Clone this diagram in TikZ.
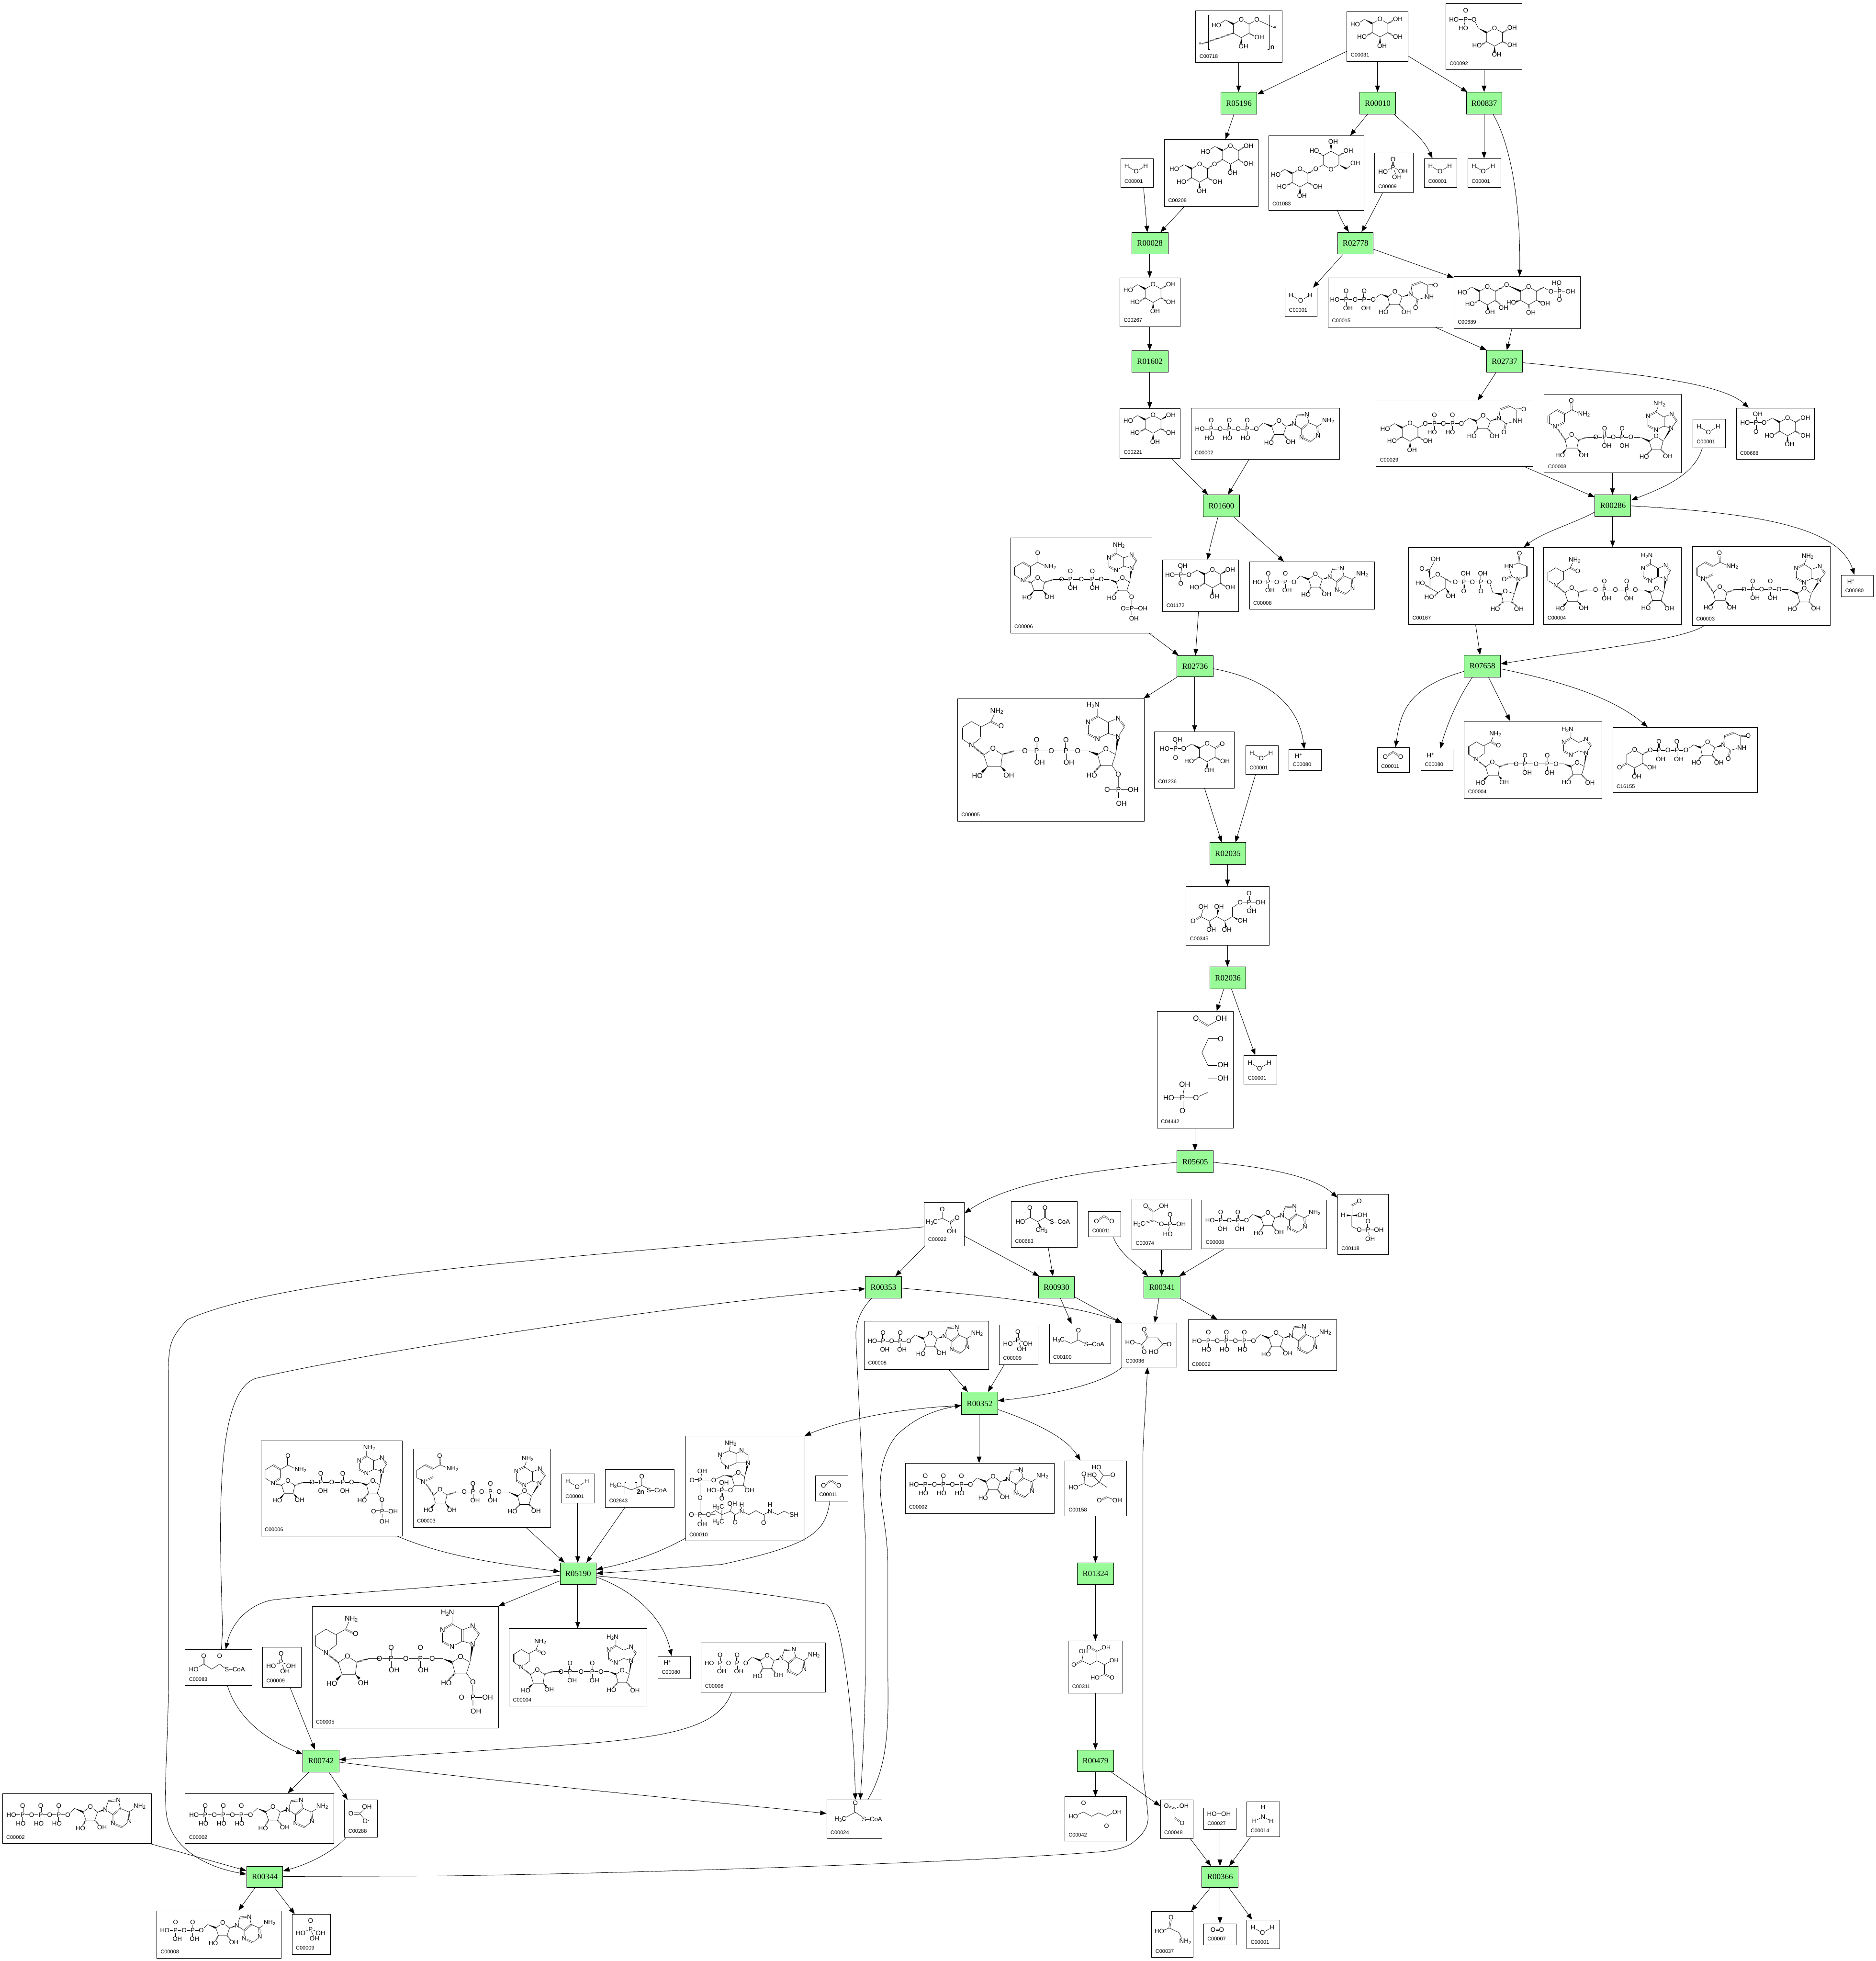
\documentclass[tikz,border=0pt]{standalone}
\usepackage{fontspec}
\setmainfont{Liberation Sans}
\newfontfamily\rf{Liberation Serif}
\usetikzlibrary{arrows.meta,calc}
\definecolor{rg}{HTML}{98FB98}
\newcounter{atm}
\newcounter{idn}
\tikzset{
 cbox/.style={draw,line width=.3pt,fill=white,inner sep=0pt,anchor=north west},
 rbox/.style={draw,line width=.3pt,fill=rg,inner sep=0pt,anchor=north west,font=\rf\fontsize{5.1}{5.1}\selectfont},
 idl/.style={inner sep=0pt,anchor=west,font=\fontsize{3.3}{3.3}\selectfont},
 atom/.style={fill=white,inner sep=.12pt,font=\fontsize{\fs}{\fs}\selectfont},
 bd/.style={line width=.22pt,line join=round},
 arr/.style={line width=.26pt,-{Triangle[length=4pt,width=3pt]}}
}
\newcommand\sub[1]{\raisebox{-.3ex}{\scalebox{.72}{#1}}}
\newcommand\supr[1]{\raisebox{.55ex}{\scalebox{.72}{#1}}}
\newcommand\cpd[6]{\def\cx{#2}\def\cy{#3}%
 \pgfmathsetmacro\wv{(#4-#2)*.276}\pgfmathsetmacro\hv{(#5-#3)*.276}%
 \node[cbox,minimum width=\wv mm,minimum height=\hv mm] (#1) at (#2,#3) {};%
 \pgfmathsetmacro\lx{#2+3}\pgfmathsetmacro\ly{#5-4.9}\stepcounter{idn}%
 \node[idl] (id\arabic{idn}) at (\lx,\ly) {#6};}
\newcommand\rxn[6]{\pgfmathsetmacro\wv{(#4-#2)*.276}\pgfmathsetmacro\hv{(#5-#3)*.276}%
 \node[rbox,minimum width=\wv mm,minimum height=\hv mm] (#1) at (#2,#3) {#6};}
\newcommand\mol[4]{\pgfmathsetmacro\mx{\cx+#1}\pgfmathsetmacro\my{\cy+#2}\pgfmathsetmacro\uu{#3*.2835}%
 \pgfmathsetmacro\fs{2.6+.25*\uu}\pgfmathsetmacro\ww{\uu*.11}\pgfmathsetmacro\lw{\uu*.13}%
 \begin{scope}[shift={(\mx,\my)},x=\uu pt,y=\uu pt]#4\end{scope}}
\newcommand\A[2]{\stepcounter{atm}\node[atom] (at\arabic{atm}) at (#1) {#2};}
\newcommand\Ba[2]{\draw[bd] (#1)--(#2);}
\newcommand\Wd[2]{\fill ($(#2)!\ww pt!90:(#1)$) -- (#1) -- ($(#2)!\ww pt!-90:(#1)$) -- cycle;}
\newcommand\Hs[2]{\draw[line width=\lw pt,dash pattern=on .22pt off .3pt] (#1)--(#2);}
\newcommand\Db[2]{\draw[line width=.2pt,double,double distance=.55pt] (#1)--(#2);}
\newcommand\Ring[2]{\begin{scope}[shift={(#1,#2)}]\draw[bd] (0,1)--(.87,.5)--(.87,-.5)--(0,-1)--(-.87,-.5)--(-.87,.5)--cycle;\A{0,1}{O}\end{scope}}
\newcommand\GlcSix{\Wd{-1.72,.97}{-.87,.5}\Ba{-1.72,.97}{-2.3,.6}\A{-2.75,.38}{HO}}
\newcommand\GlcLow{\Hs{.87,-.5}{1.55,-.9}\A{1.97,-.96}{OH}\Hs{-.87,-.5}{-1.55,-.9}\A{-2,-.96}{HO}\Wd{0,-1}{0,-1.65}\A{.22,-1.96}{OH}}
\newcommand\mGlc[1]{\Ring{0}{0}\GlcSix\GlcLow#1{.87,.5}{1.55,.9}\A{1.97,1}{OH}}
\newcommand\PSix{\Wd{-1.7,.95}{-.87,.5}\Ba{-1.7,.95}{-2.6,.45}\Ba{-2.6,.45}{-4.3,.45}\Db{-3.5,.45}{-3.5,-.5}\Ba{-3.5,.45}{-3.4,1.2}\A{-2.6,.45}{O}\A{-3.5,.45}{P}\A{-4.7,.45}{HO}\A{-3.5,-.55}{O}\A{-3.3,1.42}{OH}}
\newcommand\mGsix[1]{\Ring{0}{0}\PSix\GlcLow#1{.87,.5}{1.55,.9}\A{1.97,1}{OH}}
\newcommand\mWater{\Ba{-1.05,.62}{0,0}\Ba{1.05,.62}{0,0}\A{-1.05,.62}{H}\A{1.05,.62}{H}\A{0,0}{O}}
\newcommand\mPi{\Db{0,0}{0,.92}\Ba{0,0}{-1.1,-.45}\Ba{0,0}{1.1,-.43}\Ba{0,0}{.43,-1.03}\A{0,0}{P}\A{0,.92}{O}\A{-1.1,-.45}{HO}\A{1.1,-.43}{OH}\A{.43,-1.03}{OH}}
\newcommand\mCO{\Db{-.85,-.55}{0,0}\Db{.85,-.55}{0,0}\A{-.85,-.55}{O}\A{.85,-.55}{O}}
\newcommand\Pg[3]{\begin{scope}[shift={(#1,0)}]\Db{0,0}{0,.8}\Ba{0,0}{0,-.75}\A{0,0}{P}\A{0,.96}{O}\A{#3,-.98}{#2}\end{scope}}
\newcommand\mAdoH{\Ba{0,0}{.75,.7}\Wd{.75,.7}{1.7,.3}\draw[bd] (1.7,.3)--(2.5,.9)--(3.3,.3)--(3,-.6)--(2,-.6)--cycle;\Wd{3.3,.3}{4.17,.58}%
 \Hs{2,-.6}{1.65,-1.2}\Hs{3,-.6}{3.45,-1.15}%
 \draw[bd] (4.17,.58)--(4.5,1.52);\Db{4.5,1.52}{5.6,1.6}\draw[bd] (5.6,1.6)--(5.83,.7);\Db{5.83,.7}{5,0}\draw[bd] (5,0)--(4.17,.58) (5,0)--(5,-.94);\Db{5,-.94}{6,-1.4}\draw[bd] (6,-1.4)--(6.83,-.7);\Db{6.83,-.7}{6.75,.3}\draw[bd] (6.75,.3)--(5.83,.7) (6.75,.3)--(7.75,.92);%
 \A{0,0}{O}\A{2.5,.9}{O}\A{1.4,-1.5}{HO}\A{3.8,-1.4}{OH}\A{4.17,.58}{N}\A{5.6,1.6}{N}\A{5,-.94}{N}\A{6.83,-.7}{N}\A{7.95,.92}{NH\sub{2}}}
\newcommand\mATP{\Ba{-1,0}{5,0}\Pg{0}{HO}{-.2}\Pg{2}{HO}{-.2}\Pg{4}{HO}{-.2}\A{-1.25,0}{HO}\A{1,0}{O}\A{3,0}{O}\begin{scope}[shift={(5,0)}]\mAdoH\end{scope}}
\newcommand\mADP{\Ba{-1,0}{3,0}\Pg{0}{OH}{.2}\Pg{2}{OH}{.2}\A{-1.25,0}{HO}\A{1,0}{O}\begin{scope}[shift={(3,0)}]\mAdoH\end{scope}}
\newcommand\mUrid{\Ba{0,0}{.85,.6}\Wd{.85,.6}{1.62,.29}\draw[bd] (1.62,.29)--(2.4,.89)--(3.2,.29)--(2.9,-.56)--(1.8,-.56)--cycle;\Wd{3.2,.29}{4.15,.6}%
 \Hs{1.8,-.56}{1.35,-1.1}\Hs{2.9,-.56}{3.4,-1.1}%
 \draw[bd] (4.15,.6)--(4.27,1.56);\Db{4.27,1.56}{5.3,1.94}\draw[bd] (5.3,1.94)--(6.05,1.56)--(6.05,.29)--(4.9,0)--(4.15,.6);\Db{6.05,1.56}{6.9,1.6}\Db{4.9,0}{4.7,-.94}%
 \A{0,0}{O}\A{2.4,.89}{O}\A{1.15,-1.38}{HO}\A{3.65,-1.38}{OH}\A{4.15,.6}{N}\A{6.9,1.6}{O}\A{6.2,.29}{NH}\A{4.7,-.94}{O}}
\newcommand\mUDP{\Ba{-1,0}{3,0}\Pg{0}{OH}{.2}\Pg{2}{OH}{.2}\A{-1.25,0}{HO}\A{1,0}{O}\begin{scope}[shift={(3,0)}]\mUrid\end{scope}}
\newcommand\mUDPn{\Ba{-1,0}{3,0}\Pg{0}{HO}{-.25}\Pg{2}{HO}{-.25}\A{-1,0}{O}\A{1,0}{O}\begin{scope}[shift={(3,0)}]\mUrid\end{scope}}
\newcommand\mUDPG{\begin{scope}[shift={(-2.7,-.96)}]\Ba{.87,.5}{1.7,.96}\Ring{0}{0}\GlcSix\GlcLow\end{scope}\mUDPn}
\newcommand\mKeto{\begin{scope}[shift={(-2.69,-.96)}]\Hs{.87,.5}{1.69,.96}\Ring{0}{0}\Db{-.87,-.5}{-1.67,-.94}\Hs{.87,-.5}{1.5,-.85}\Wd{0,-1}{0,-1.65}\A{-1.67,-.94}{O}\A{1.93,-.94}{OH}\A{.23,-1.94}{OH}\end{scope}\Ba{-1,0}{3,0}\Pg{0}{OH}{.2}\Pg{2}{OH}{.2}\A{-.95,0}{O}\A{1,0}{O}\begin{scope}[shift={(3,0)}]\mUrid\end{scope}}
\newcommand\mUGA{\begin{scope}[shift={(-2.88,-.16)}]\Ring{0}{0}\Wd{-.87,.5}{-.95,1.45}\Db{-.95,1.45}{-1.65,1.6}\Ba{-.95,1.45}{-.35,2.5}\A{-1.75,1.65}{O}\A{-.25,2.72}{OH}\Hs{.87,.5}{1.45,.16}\Hs{-.87,-.5}{-1.6,-.05}\A{-1.95,.05}{HO}\Hs{0,-1}{-.35,-1.4}\A{-.95,-1.5}{HO}\Wd{.87,-.5}{1.2,-1}\A{1.43,-1.4}{OH}\end{scope}%
 \Ba{-1,0}{2.83,0}\Db{0,0}{0,-.8}\Db{1.9,0}{1.9,-.8}\Ba{0,0}{0,.7}\Ba{1.9,0}{1.9,.7}\A{-.95,0}{O}\A{0,0}{P}\A{.95,0}{O}\A{1.9,0}{P}\A{0,-1}{O}\A{1.9,-1}{O}\A{.2,.93}{OH}\A{2.1,.93}{OH}%
 \draw[bd] (2.83,0)--(3.2,-1.16);\Wd{3.2,-1.16}{4.17,-1.38}\draw[bd] (4.17,-1.38)--(4.6,-1)--(5.6,-1.27)--(5.3,-2.2)--(4.35,-2.2)--cycle;\Wd{5.6,-1.27}{6.06,.29}\Hs{4.35,-2.2}{3.85,-2.65}\Hs{5.3,-2.2}{5.85,-2.65}%
 \draw[bd] (6.06,.29)--(5.3,.63)--(5,1.74)--(6.06,2.1)--(7,1.74);\Db{7,1.74}{7,.63}\draw[bd] (7,.63)--(6.06,.29);\Db{5.3,.63}{4.47,.33}\Db{6.06,2.1}{6.17,3.15}%
 \A{2.83,0}{O}\A{4.6,-1}{O}\A{3.48,-3}{HO}\A{6.1,-3}{OH}\A{6.06,.29}{N}\A{4.47,.33}{O}\A{5,1.74}{HN}\A{6.17,3.15}{O}}
\newcommand\mAdoV{\Ba{0,0}{1.05,0}\Wd{1.05,0}{2.1,-.46}\draw[bd] (2.1,-.46)--(2.89,.11)--(3.68,-.46)--(3.42,-1.43)--(2.37,-1.43)--cycle;\Wd{3.68,-.46}{4.6,1.03}\Hs{2.37,-1.43}{1.85,-1.95}\Hs{3.42,-1.43}{3.95,-1.95}%
 \draw[bd] (4.6,1.03)--(5.25,1.84);\Db{5.25,1.84}{4.65,2.64}\draw[bd] (4.65,2.64)--(3.73,2.3);\Db{3.73,2.3}{3.73,1.26}\draw[bd] (3.73,1.26)--(4.6,1.03) (3.73,1.26)--(2.87,.8);\Db{2.87,.8}{1.95,1.3}\draw[bd] (1.95,1.3)--(1.95,2.4);\Db{1.95,2.4}{2.87,2.87}\draw[bd] (2.87,2.87)--(3.73,2.3) (2.87,2.87)--(3.15,3.6);%
 \A{0,0}{O}\A{2.89,.11}{O}\A{1.52,-2.23}{HO}\A{4.21,-2.18}{OH}\A{4.6,1.03}{N}\A{4.65,2.64}{N}\A{2.87,.8}{N}\A{1.95,2.4}{N}\A{3.25,3.8}{NH\sub{2}}}
\newcommand\mAdoVb[2]{\Ba{0,0}{.9,0}\Wd{.9,0}{1.7,-.3}\draw[bd] (1.7,-.3)--(2.41,.17)--(3.22,-.3)--(2.92,-1.23)--(1.94,-1.23)--cycle;\Wd{3.22,-.3}{3.45,1.25}\Hs{1.94,-1.23}{1.4,-1.8}%
 \draw[bd] (3.45,1.25)--(4,2.08);\Db{4,2.08}{3.45,2.8}\draw[bd] (3.45,2.8)--(2.57,2.45);\Db{2.57,2.45}{2.57,1.5}\draw[bd] (2.57,1.5)--(3.45,1.25) (2.57,1.5)--(1.68,1.03);\Db{1.68,1.03}{.88,1.45}\draw[bd] (.88,1.45)--(.88,2.47);\Db{.88,2.47}{1.7,2.95}\draw[bd] (1.7,2.95)--(2.57,2.45) (1.7,2.95)--(1.7,3.6);%
 \A{0,0}{O}\A{2.41,.17}{O}\A{1.2,-2.08}{HO}\A{3.45,1.25}{N}\A{3.45,2.8}{N}\A{1.68,1.03}{N}\A{.88,2.47}{N}\A{#2,3.9}{#1}}
\newcommand\Pextra{\Ba{2.92,-1.23}{3.46,-2}\Ba{3.46,-2}{3.47,-4}\Db{3.47,-3.3}{2.51,-3.3}\Ba{3.47,-3.3}{4.4,-3.3}\A{3.46,-2}{O}\A{3.47,-3.3}{P}\A{2.51,-3.3}{O}\A{4.72,-3.3}{OH}\A{3.72,-4.46}{OH}}
\newcommand\rNAD{\mAdoV}
\newcommand\rNADH{\mAdoVb{H\sub{2}N}{1.3}\Hs{2.92,-1.23}{3.5,-1.85}\A{3.87,-2.14}{OH}}
\newcommand\rNADP{\mAdoVb{NH\sub{2}}{2}\Pextra}
\newcommand\rNADPH{\mAdoVb{H\sub{2}N}{1.3}\Pextra}
\newcommand\nicOx{\Ba{-1,0}{-1.97,0}\Hs{-1.97,0}{-2.97,-.34}\draw[bd] (-2.97,-.34)--(-3.76,.28)--(-4.5,-.34)--(-4.29,-1.26)--(-3.16,-1.26)--cycle;\Wd{-4.29,-1.26}{-4.75,-1.8}\Wd{-3.16,-1.26}{-2.75,-1.75}\Hs{-4.5,-.34}{-5.53,1.2}%
 \draw[bd] (-5.53,1.2)--(-6.4,1.6);\Db{-6.4,1.6}{-6.4,2.48}\draw[bd] (-6.4,2.48)--(-5.47,3.1);\Db{-5.47,3.1}{-4.55,2.64}\draw[bd] (-4.55,2.64)--(-4.55,1.72);\Db{-4.55,1.72}{-5.53,1.2}\draw[bd] (-4.55,2.64)--(-3.76,3.1);\Db{-3.76,3.1}{-3.8,4}\draw[bd] (-3.76,3.1)--(-2.9,2.75);%
 \A{-3.76,.28}{O}\A{-5.08,-2.07}{HO}\A{-2.4,-2.07}{OH}\A{-5.53,1.2}{N\supr{+}}\A{-3.8,4.14}{O}\A{-2.35,2.64}{NH\sub{2}}}
\newcommand\nicOxB{\Ba{-1,0}{-1.97,0}\Hs{-1.97,0}{-2.95,-.34}\draw[bd] (-2.95,-.34)--(-3.72,.18)--(-4.45,-.34)--(-4.14,-1.26)--(-3.14,-1.26)--cycle;\Wd{-4.14,-1.26}{-4.55,-1.8}\Wd{-3.14,-1.26}{-2.75,-1.7}\Hs{-4.45,-.34}{-5.42,-.11}%
 \draw[bd] (-5.42,-.11)--(-6.28,.46);\Db{-6.28,.46}{-6.28,1.42}\draw[bd] (-6.28,1.42)--(-5.42,1.95);\Db{-5.42,1.95}{-4.58,1.44}\draw[bd] (-4.58,1.44)--(-4.58,.46);\Db{-4.58,.46}{-5.42,-.11}\draw[bd] (-4.58,1.44)--(-3.72,1.95);\Db{-3.72,1.95}{-3.72,2.85}\draw[bd] (-3.72,1.95)--(-2.95,1.55);%
 \A{-3.72,.18}{O}\A{-4.93,-2.06}{HO}\A{-2.4,-2}{OH}\A{-5.42,-.11}{N}\A{-3.72,3}{O}\A{-2.3,1.42}{NH\sub{2}}}
\newcommand\nicRed{\Ba{-1,0}{-1.97,0}\Hs{-1.97,0}{-2.92,-.3}\draw[bd] (-2.92,-.3)--(-3.72,.2)--(-4.5,-.33)--(-4.18,-1.33)--(-3.05,-1.33)--cycle;\Wd{-4.18,-1.33}{-4.65,-1.8}\Wd{-3.05,-1.33}{-2.7,-1.7}\Hs{-4.5,-.33}{-5.55,.5}%
 \draw[bd] (-5.55,.5)--(-6.38,1.05);\Db{-6.38,1.05}{-6.38,2}\draw[bd] (-6.38,2)--(-5.55,2.52)--(-4.72,2.05);\Db{-4.72,2.05}{-4.72,1.15}\draw[bd] (-4.72,1.15)--(-5.55,.5) (-4.72,2.05)--(-3.9,2.5)--(-3.6,3.15);\Db{-3.9,2.5}{-3.05,2.1}%
 \A{-3.72,.2}{O}\A{-5.05,-2.13}{HO}\A{-2.37,-2.07}{OH}\A{-5.55,.5}{N}\A{-3.4,3.4}{NH\sub{2}}\A{-3.03,2.12}{O}}
\newcommand\mNADc[3]{\pgfmathsetmacro\qb{#1}\pgfmathsetmacro\qm{#1/2}\pgfmathsetmacro\qo{#1+1}%
 \Ba{-1,0}{\qo,0}\Pg{0}{OH}{.25}\Pg{\qb}{OH}{.25}\A{-1,0}{O}\A{\qm,0}{O}#2\begin{scope}[shift={(\qo,0)}]#3\end{scope}}
\newcommand\mNAD{\mNADc{2}{\nicOx}{\rNAD}}
\newcommand\mNADH{\mNADc{2.55}{\nicRed}{\rNADH}}
\newcommand\mNADP{\mNADc{2.5}{\nicOxB}{\rNADP}}
\newcommand\mNADPH{\mNADc{2.5}{\nicRed}{\rNADPH}}
\begin{document}
\begin{tikzpicture}[x=.276mm,y=-.276mm]
\fill[white] (0,0) rectangle (1500,1568);
\useasboundingbox (0,0) rectangle (1500,1568);
% ---- reactions
\rxn{r5196}{976}{73.6}{1005}{91}{R05196}
\rxn{r0010}{1087}{73.6}{1116}{91}{R00010}
\rxn{r0837}{1172.4}{73.6}{1201}{91}{R00837}
\rxn{r0028}{904.8}{185.7}{933.9}{203}{R00028}
\rxn{r2778}{1069.6}{185.5}{1098}{203}{R02778}
\rxn{r1602}{904.8}{280.3}{933.9}{297.6}{R01602}
\rxn{r2737}{1188.6}{280}{1217.4}{297.6}{R02737}
\rxn{r1600}{962}{395.5}{991}{413}{R01600}
\rxn{r0286}{1275.3}{395.5}{1304}{412.8}{R00286}
\rxn{r2736}{941}{524}{970}{541}{R02736}
\rxn{r7658}{1170.8}{523.6}{1199.8}{541.2}{R07658}
\rxn{r2035}{967.3}{673.5}{996.2}{691}{R02035}
\rxn{r2036}{967.3}{773}{996.2}{790.5}{R02036}
\rxn{r5605}{941}{920}{970.2}{937.5}{R05605}
\rxn{r0353}{691.8}{1020.4}{720.8}{1037.7}{R00353}
\rxn{r0930}{830.4}{1020.4}{859}{1037.7}{R00930}
\rxn{r0341}{914.6}{1020.4}{943.5}{1037.7}{R00341}
\rxn{r0352}{768.8}{1113}{797.6}{1131}{R00352}
\rxn{r5190}{447.7}{1249.5}{476.5}{1266.8}{R05190}
\rxn{r1324}{861.3}{1249.5}{890.4}{1266.7}{R01324}
\rxn{r0479}{861.3}{1399}{890.4}{1416.3}{R00479}
\rxn{r0742}{242}{1399}{271}{1416.6}{R00742}
\rxn{r0344}{197}{1492}{226}{1509}{R00344}
\rxn{r0366}{960.9}{1492}{990}{1509}{R00366}
% ---- compounds
\cpd{ca718}{956}{8.4}{1025}{49.8}{C00718}
\mol{36.6}{14.5}{20}{\Ring{0}{0}\GlcSix\Wd{0,-1}{0,-1.65}\Hs{.87,-.5}{1.55,-.9}\A{2,-.97}{OH}\A{.25,-1.97}{OH}\Ba{.87,.5}{1.73,1}\Ba{1.73,1}{3.65,.1}\A{1.73,1}{O}\A{3.75,.05}{*}\Hs{-.87,-.5}{-4.4,-1.7}\A{-4.56,-1.75}{*}\draw[bd] (-3.45,1.5)--(-3.65,1.5)--(-3.65,-2.3)--(-3.45,-2.3) (2.9,1.5)--(3.1,1.5)--(3.1,-2.3)--(2.9,-2.3);\A{3.45,-2.08}{\textbf{n}}}
\cpd{ca31}{1077}{9.2}{1126}{49}{C00031}\mol{26.6}{13.2}{20}{\mGlc{\Hs}}
\cpd{ca92}{1156}{2.7}{1217}{55.6}{C00092}
\mol{39.2}{27}{20}{\Ring{0}{0}\Wd{-1.82,1}{-.87,.5}\Ba{-1.82,1}{-2.27,1.97}\Ba{-2.27,1.97}{-4.2,1.97}\Db{-3.2,1.97}{-3.2,2.9}\Ba{-3.2,1.97}{-3.4,1.2}\A{-2.27,1.97}{O}\A{-3.2,1.97}{P}\A{-3.2,2.97}{O}\A{-4.5,1.97}{HO}\A{-3.46,.97}{HO}\Hs{.87,.5}{1.55,.9}\A{1.94,1.03}{OH}\Hs{.87,-.5}{1.55,-.8}\A{1.94,-.87}{OH}\Hs{-.87,-.5}{-1.5,-.85}\A{-1.94,-.92}{HO}\Wd{0,-1}{0,-1.6}\A{.23,-1.92}{OH}}
\cpd{ca208}{931}{111.3}{1006}{165}{C00208}
\mol{53}{12.7}{20}{\Ring{0}{0}\GlcSix\Hs{.87,-.5}{1.55,-.9}\A{1.97,-.96}{OH}\Wd{0,-1}{0,-1.65}\A{.22,-1.96}{OH}\Hs{.87,.5}{1.55,.9}\A{2,1}{OH}\Hs{-.87,-.5}{-1.5,-.85}\begin{scope}[shift={(-3.42,-2)}]\Hs{.87,.5}{1.66,1}\Ring{0}{0}\Wd{-1.73,.95}{-.87,.5}\Ba{-1.73,.95}{-2.3,.6}\A{-2.8,.45}{HO}\GlcLow\end{scope}\A{-1.76,-1}{O}}
\cpd{ca1083}{1014.3}{108.4}{1090.5}{168}{C01083}
\mol{25.3}{33.9}{20}{\Ring{0}{0}\Wd{-1.68,.97}{-.87,.5}\Ba{-1.68,.97}{-2.2,.6}\A{-2.68,.35}{HO}\GlcLow\Hs{.87,.5}{1.76,1}\begin{scope}[shift={(3.44,1.97)}]\draw[bd] (0,-1)--(.87,-.5)--(.87,.5)--(0,1)--(-.87,.5)--(-.87,-.5)--cycle;\Ba{-.87,-.5}{-1.68,-.97}\Wd{.87,-.5}{1.7,-.95}\Ba{1.7,-.95}{2.3,-.5}\Wd{0,1}{0,1.7}\Hs{-.87,.5}{-1.4,.85}\Hs{.87,.5}{1.45,.85}\A{0,-1}{O}\A{.23,2.03}{OH}\A{-1.86,1.03}{HO}\A{1.91,1.03}{OH}\A{2.68,-.33}{OH}\end{scope}\A{1.76,1}{O}}
\cpd{pi1}{1099}{122}{1130}{154}{C00009}\mol{15}{12}{20}{\mPi}
\cpd{h2oa}{1139}{126.6}{1165}{149.7}{C00001}\mol{12.6}{10.5}{20}{\mWater}
\cpd{h2ob}{1173.6}{126.6}{1200}{149.7}{C00001}\mol{12.6}{10.5}{20}{\mWater}
\cpd{h2oc}{896}{126.6}{922}{149.7}{C00001}\mol{12.6}{10.5}{20}{\mWater}
\cpd{ca267}{895.4}{222}{943.7}{261}{C00267}\mol{26.7}{12.6}{20}{\mGlc{\Hs}}
\cpd{ca221}{895.4}{326.6}{943.7}{366.5}{C00221}\mol{26.7}{12.6}{20}{\mGlc{\Wd}}
\cpd{atp1}{952.3}{326}{1071}{367}{C00002}\mol{16.3}{17.1}{20}{\mATP}
\cpd{ca1172}{929.6}{447.5}{990.5}{489}{C01172}\mol{40}{15.3}{20}{\mGsix{\Wd}}
\cpd{adp1}{999}{449}{1099}{487}{C00008}\mol{15.2}{16.3}{19}{\mADP}
\cpd{nadp1}{808}{430}{921}{506}{C00006}\mol{48}{33.3}{19.5}{\mNADP}
\cpd{nadph1}{765.6}{558.5}{915}{656.5}{C00005}\mol{63.4}{42}{26}{\mNADPH}
\cpd{ca1236}{923}{585}{987}{630}{C01236}
\mol{42.4}{16.8}{20}{\Ring{0}{0}\Db{.87,.5}{1.67,.97}\PSix\GlcLow\A{1.67,.97}{O}}
\cpd{h2od}{996}{596}{1022}{619}{C00001}\mol{12.6}{10.5}{20}{\mWater}
\cpd{hp1}{1030.6}{599}{1056.6}{616}{C00080}\mol{7.7}{5.4}{20}{\A{0,0}{H\supr{+}}}
\cpd{ca345}{948.4}{708.5}{1014.9}{755.5}{C00345}
\mol{12}{24.4}{20}{\Db{0,0}{-.87,-.49}\draw[bd] (.25,.85)--(0,0)--(.92,-.49)--(1.74,0)--(2.63,-.49)--(3.48,0)--(3.48,1)--(4.35,1.56)--(6.3,1.56);\Db{5.33,1.56}{5.33,2.4}\Ba{5.33,1.56}{5.6,.8}\Wd{.92,-.49}{1.08,-1.2}\Wd{1.74,0}{1.92,.75}\Wd{2.63,-.49}{2.78,-1.2}\Wd{3.48,0}{4.2,-.38}\A{.25,1.07}{OH}\A{-.87,-.49}{O}\A{1.14,-1.46}{OH}\A{2,1.07}{OH}\A{2.86,-1.46}{OH}\A{4.6,-.42}{OH}\A{4.35,1.56}{O}\A{5.33,1.56}{P}\A{5.33,2.57}{O}\A{6.58,1.56}{OH}\A{5.6,.6}{OH}}
\cpd{h2oe}{994.7}{843.7}{1020.8}{866.8}{C00001}\mol{12.6}{10.5}{20}{\mWater}
\cpd{ca4442}{925.2}{808.4}{986}{901.8}{C04442}
\mol{40.8}{11.8}{29}{\Db{0,0}{-.92,.57}\Ba{0,0}{1.02,.57}\Ba{0,0}{0,-1.03}\Db{0,-1.03}{.97,-1.03}\draw[bd] (0,-1.03)--(-.46,-2.05)--(0,-3.03)--(0,-5.08)--(-.92,-5.5)--(-2.85,-5.5) (0,-3.03)--(1,-3.03) (0,-4.05)--(1,-4.05);\Ba{-1.95,-5.5}{-1.8,-4.7}\Db{-1.95,-5.5}{-1.95,-6.3}\A{-.92,.57}{O}\A{1.02,.57}{OH}\A{.97,-1}{O}\A{1.15,-3}{OH}\A{1.15,-4}{OH}\A{-.92,-5.5}{O}\A{-1.95,-5.5}{P}\A{-1.77,-4.5}{OH}\A{-3,-5.5}{HO}\A{-1.95,-6.5}{O}}
\cpd{h2of}{1027.5}{230}{1053}{253}{C00001}\mol{12.6}{10.5}{20}{\mWater}
\cpd{ca15}{1062}{222}{1153.8}{261.4}{C00015}\mol{14.5}{17.5}{20}{\mUDP}
\cpd{ca689}{1162.5}{220.8}{1263.8}{262.5}{C00689}
\mol{26.9}{15.7}{20}{\Ring{0}{0}\GlcSix\Hs{.87,.5}{2.14,1.2}\Hs{.87,-.5}{1.45,-.95}\Hs{-.87,-.5}{-1.5,-.8}\Wd{0,-1}{.1,-1.55}\A{-1.92,-.89}{HO}\A{1.8,-1.34}{OH}\A{.3,-1.8}{OH}\begin{scope}[shift={(4.57,0)}]\Ring{0}{0}\Wd{-2.43,1.2}{-.87,.5}\Hs{.87,.5}{1.63,.94}\Ba{1.63,.94}{2.48,.45}\Ba{2.48,.45}{4.3,.45}\Db{3.43,.45}{3.43,-.35}\Ba{3.43,.45}{3.2,1.2}\Wd{-.87,-.5}{-1.45,-.65}\Wd{.87,-.5}{1.45,-.75}\Hs{0,-1}{.1,-1.5}\A{-1.92,-.74}{HO}\A{1.84,-.85}{OH}\A{.26,-1.85}{OH}\A{2.48,.45}{O}\A{3.43,.45}{P}\A{3.13,1.43}{HO}\A{4.63,.45}{OH}\A{3.43,-.45}{O}\end{scope}\A{2.14,1.2}{O}}
\cpd{ca29}{1100.3}{320.3}{1225.7}{372.7}{C00029}\mol{46.8}{18.4}{20}{\mUDPG}
\cpd{nad1}{1234.7}{315}{1344.6}{378}{C00003}\mol{48.5}{34.5}{19.4}{\mNAD}
\cpd{h2og}{1353.6}{335}{1379.6}{358}{C00001}\mol{12.6}{10.5}{20}{\mWater}
\cpd{ca668}{1388.3}{326}{1450.8}{367.2}{C00668}\mol{41.2}{15.2}{20}{\mGsix{\Hs}}
\cpd{ca167}{1126.3}{437.4}{1226}{499}{C00167}\mol{44.3}{28}{20}{\mUGA}
\cpd{nadh1}{1234.3}{437.4}{1344.6}{499}{C00004}\mol{48.7}{34.2}{19.4}{\mNADH}
\cpd{nad2}{1353.3}{436.7}{1463.3}{499.8}{C00003}\mol{48.4}{34.6}{19.4}{\mNAD}
\cpd{hp2}{1472.4}{459.6}{1498}{477}{C00080}\mol{7.7}{5.4}{20}{\A{0,0}{H\supr{+}}}
\cpd{co2a}{1101.3}{597.4}{1127}{617.6}{C00011}\mol{12.7}{3.8}{20}{\mCO}
\cpd{hp3}{1136.2}{598.6}{1162}{616}{C00080}\mol{7.7}{5.4}{20}{\A{0,0}{H\supr{+}}}
\cpd{nadh2}{1170.8}{576.4}{1280.8}{638}{C00004}\mol{48.7}{34.4}{19.4}{\mNADH}
\cpd{ca16155}{1289.5}{581.3}{1405.3}{633.6}{C16155}\mol{37.1}{18.6}{20}{\mKeto}
% lower part
\cpd{ca22}{739}{961.4}{771}{996}{C00022}
\mol{14.5}{12.7}{20}{\Db{0,0}{0,.85}\Ba{0,0}{-.9,-.35}\Ba{0,0}{.88,-.45}\Db{.88,-.45}{1.55,0}\Ba{.88,-.45}{1.05,-1.2}\A{0,1}{O}\A{-1.16,-.45}{H\sub{3}C}\A{1.65,.03}{O}\A{1.05,-1.42}{OH}}
\cpd{ca683}{808.5}{960.6}{861.4}{997.3}{C00683}
\mol{21.4}{16.2}{20}{\Ba{-1.7,0}{-.88,.47}\Ba{-.88,.47}{0,0}\Ba{0,0}{.8,.47}\Ba{.8,.47}{1.5,0}\Db{-.88,.47}{-.88,1.4}\Db{.8,.47}{.8,1.4}\Wd{0,0}{.35,-.75}\A{-.88,1.52}{O}\A{-1.93,0}{HO}\A{.8,1.52}{O}\A{2.45,0}{S--CoA}\A{.42,-.98}{CH\sub{3}}}
\cpd{co2b}{870.3}{968.6}{896.3}{988.9}{C00011}\mol{12.7}{3.8}{20}{\mCO}
\cpd{ca74}{905}{958.5}{952.5}{999}{C00074}
\mol{17.5}{17.4}{20}{\Db{0,0}{0,.97}\Db{0,0}{-1.3,-.35}\Ba{0,.97}{.9,1.5}\Db{0,.97}{-.75,1.5}\Ba{0,0}{.88,-.42}\Ba{.88,-.42}{2.8,-.42}\Db{1.83,-.42}{1.83,.5}\Ba{1.83,-.42}{1.6,-1.25}\A{-.88,1.62}{O}\A{1.14,1.62}{OH}\A{-1.58,-.42}{H\sub{2}C}\A{.88,-.42}{O}\A{1.83,-.42}{P}\A{1.83,.67}{O}\A{3.05,-.42}{OH}\A{1.58,-1.5}{HO}}
\cpd{adp2}{961}{959.5}{1060.8}{998.3}{C00008}\mol{15.2}{16.3}{19}{\mADP}
\cpd{ca118}{1069.5}{954.7}{1110}{1003}{C00118}
\mol{11.5}{17.3}{20}{\Ba{0,0}{0,1.13}\Db{0,1.13}{.7,1.5}\Wd{0,0}{-.55,.03}\Wd{0,0}{.6,.03}\draw[bd] (0,0)--(0,-1.2)--(.83,-1.58)--(2.8,-1.58);\Db{1.8,-1.58}{1.8,-.75}\Ba{1.8,-1.58}{1.95,-2.3}\A{.83,1.58}{O}\A{-.95,.05}{H}\A{1.17,.05}{OH}\A{.83,-1.58}{O}\A{1.8,-1.58}{P}\A{1.8,-.62}{O}\A{3,-1.58}{OH}\A{2.03,-2.57}{OH}}
\cpd{adp3}{691}{1056}{790.5}{1094.8}{C00008}\mol{15.2}{16.3}{19}{\mADP}
\cpd{pi2}{799}{1059.4}{830}{1091}{C00009}\mol{15}{12}{20}{\mPi}
\cpd{ca100}{839}{1058.5}{888}{1090}{C00100}
\mol{23.4}{12.9}{20}{\Db{0,0}{0,.9}\Ba{0,0}{-.8,-.38}\Ba{-.8,-.38}{-1.7,0}\Ba{0,0}{.7,-.4}\A{0,1.03}{O}\A{-2.18,0}{H\sub{3}C}\A{1.75,-.47}{S--CoA}}
\cpd{ca36}{897}{1057.7}{941}{1093}{C00036}
\mol{20.6}{12}{20}{\Db{0,0}{-.35,.8}\Ba{0,0}{-.6,-.72}\Ba{-.6,-.72}{-1.5,-.5}\Db{-.6,-.72}{-.38,-1.45}\Ba{0,0}{1.12,0}\Ba{1.12,0}{1.68,-.72}\Db{1.68,-.72}{2.3,-.72}\Ba{1.68,-.72}{1,-1.35}\A{-.35,.9}{O}\A{-1.93,-.5}{HO}\A{-.35,-1.58}{O}\A{2.4,-.72}{O}\A{.7,-1.58}{HO}}
\cpd{atp2}{950}{1055}{1068.8}{1095.7}{C00002}\mol{16.3}{17.1}{20}{\mATP}
\cpd{atp3}{723.7}{1169.8}{843}{1210}{C00002}\mol{16.3}{17.1}{20}{\mATP}
\cpd{ca158}{851.3}{1167.8}{900.6}{1212}{C00158}
\mol{27.8}{17.3}{20}{\Ba{0,0}{.45,.78}\Db{.45,.78}{1.4,.78}\Ba{.45,.78}{-.2,1.5}\Ba{0,0}{-.65,.6}\Ba{0,0}{-.85,-.55}\Ba{-.85,-.55}{-1.74,-.16}\Db{-1.74,-.16}{-1.7,.75}\Ba{-1.74,-.16}{-2.5,-.5}\Ba{0,0}{.87,-.59}\Ba{.87,-.59}{.87,-1.65}\Db{.87,-1.65}{.1,-2}\Ba{.87,-1.65}{1.7,-2}\A{-.3,1.65}{HO}\A{1.5,.78}{O}\A{-.8,.78}{HO}\A{-1.7,.9}{O}\A{-2.86,-.59}{HO}\A{0,-2.04}{O}\A{1.99,-2.04}{OH}}
\cpd{nadp2}{208.5}{1152}{321.4}{1227.9}{C00006}\mol{48}{33.2}{19.5}{\mNADP}
\cpd{nad3}{330.3}{1158.4}{440.3}{1221}{C00003}\mol{47.9}{34.6}{19.4}{\mNAD}
\cpd{h2oh}{449}{1178.3}{475.3}{1201.6}{C00001}\mol{12.6}{10.5}{20}{\mWater}
\cpd{ca2843}{484}{1175}{539}{1205}{C02843}
\mol{29.3}{12.8}{20}{\Db{0,0}{0,.85}\draw[bd] (-2.55,-.05)--(-2.24,-.04)--(-1.15,-.48)--(0,0)--(.95,-.45);\draw[bd] (-1.75,.33)--(-1.9,.33)--(-1.9,-.92)--(-1.75,-.92) (-.72,.33)--(-.57,.33)--(-.57,-.92)--(-.72,-.92);\A{0,1}{O}\A{-2.94,0}{H\sub{3}C}\A{-.15,-.7}{\textbf{2n}}\A{1.65,-.53}{S--CoA}}
\cpd{coa}{548}{1148}{643.4}{1232}{C00010}
\mol{11.9}{35.5}{20}{\draw[bd] (3.22,3.25)--(2.21,2.81)--(2.35,2)--(2.98,1.43)--(3.99,1.91)--(3.99,2.96)--(3.22,3.25)--(3.36,3.9) (3.99,2.96)--(4.59,3.25)--(5.31,2.77)--(5.31,1.91)--(3.99,1.91);\Wd{4.94,.38}{5.31,1.91}\draw[bd] (4.94,.38)--(4.22,.86)--(3.5,.38)--(3.79,-.57)--(4.8,-.57)--cycle (3.79,-.57)--(3.36,-1.11)--(1.5,-1.11) (4.8,-.57)--(5.3,-1) (2.41,-1.11)--(2.6,-.4);\Db{2.41,-1.11}{2.41,-1.9}\Wd{2.7,.57}{3.5,.38}\draw[bd] (2.7,.57)--(1.51,0)--(-.7,0) (0,0)--(0,-3.82) (0,-3.82)--(1.69,-3.82);\Ba{0,0}{.2,.8}\Db{0,0}{-.7,0}\Db{0,-3.82}{-.7,-3.82}\draw[bd] (0,-3.82)--(.2,-4.7) (.92,-3.82)--(1.69,-3.38)--(2.41,-3.82)--(3.36,-3.44)--(3.88,-3.82)--(4.6,-3.44)--(5.4,-3.82)--(6.17,-3.38)--(7.03,-3.82)--(7.75,-3.44)--(8.6,-3.82)--(9.3,-3.44)--(10.1,-3.82) (2.41,-3.82)--(2.41,-3) (2.41,-3.82)--(2.41,-4.6) (3.36,-3.44)--(3.5,-2.8);\Db{3.88,-3.82}{3.88,-4.55}\Db{7.03,-3.82}{7.03,-4.6}\Ba{4.6,-3.44}{4.6,-2.9}\Ba{7.75,-3.44}{7.75,-2.9}\A{3.36,4.07}{NH\sub{2}}\A{2.21,2.81}{N}\A{2.98,1.43}{N}\A{4.59,3.25}{N}\A{5.31,1.91}{N}\A{4.22,.86}{O}\A{5.46,-1.11}{OH}\A{3.36,-1.11}{O}\A{2.41,-1.11}{P}\A{2.64,-.29}{OH}\A{1.26,-1.11}{HO}\A{2.41,-2.03}{O}\A{1.51,0}{O}\A{0,0}{P}\A{.23,1}{OH}\A{-.89,0}{O}\A{0,-1.95}{O}\A{0,-3.82}{P}\A{-.95,-3.82}{O}\A{.23,-4.91}{OH}\A{.92,-3.82}{O}\A{2,-2.96}{H\sub{3}C}\A{2,-4.65}{H\sub{3}C}\A{3.56,-2.62}{OH}\A{3.88,-4.68}{O}\A{4.6,-3.44}{N}\A{4.6,-2.71}{H}\A{7.03,-4.72}{O}\A{7.75,-3.44}{N}\A{7.75,-2.71}{H}\A{10.4,-3.82}{SH}}
\cpd{co2c}{652}{1180}{678}{1200}{C00011}\mol{12.7}{3.8}{20}{\mCO}
\cpd{nadph2}{249.4}{1284.3}{398.4}{1381.6}{C00005}\mol{63.4}{42}{26}{\mNADPH}
\cpd{nadh3}{407}{1302}{517}{1364}{C00004}\mol{48.8}{34.6}{19.4}{\mNADH}
\cpd{hp4}{526}{1324}{552}{1342}{C00080}\mol{7.7}{5.4}{20}{\A{0,0}{H\supr{+}}}
\cpd{adp4}{560.6}{1313.5}{660}{1353}{C00008}\mol{15.2}{16.3}{19}{\mADP}
\cpd{ca83}{147.9}{1318.7}{201.3}{1347.5}{C00083}
\mol{21.5}{16}{20}{\draw[bd] (-1.7,.1)--(-.9,.58)--(0,0)--(.86,.58)--(1.4,.15);\Db{-.9,.58}{-.9,1.3}\Db{.86,.58}{.86,1.3}\A{-.9,1.46}{O}\A{-2,0}{HO}\A{.86,1.46}{O}\A{2.55,0}{S--CoA}}
\cpd{pi3}{209.8}{1317}{240.8}{1349}{C00009}\mol{15}{12}{20}{\mPi}
\cpd{ca311}{854.2}{1312}{897.7}{1353.6}{C00311}
\mol{23}{15.9}{16}{\Ba{0,0}{0,1.3}\Db{0,1.3}{-.95,1.8}\Ba{0,1.3}{1.1,1.8}\Ba{0,0}{-.95,-.54}\Ba{-.95,-.54}{-2.07,0}\Db{-2.07,0}{-3.05,-.5}\Ba{-2.07,0}{-1.87,1.1}\Ba{0,0}{1.06,-.54}\Ba{1.06,-.54}{2,.0}\Ba{1.06,-.54}{1.06,-1.87}\Ba{1.06,-1.87}{.05,-2.3}\Db{1.06,-1.87}{1.95,-2.3}\A{-1.09,1.86}{O}\A{1.28,1.86}{OH}\A{-3.2,-.54}{O}\A{-1.87,1.3}{OH}\A{2.37,.05}{OH}\A{-.25,-2.35}{HO}\A{2.1,-2.35}{O}}
\cpd{atp4}{1.8}{1433.9}{120.8}{1474}{C00002}\mol{16.3}{17.1}{20}{\mATP}
\cpd{atp5}{147.9}{1433.9}{266.9}{1474}{C00002}\mol{16.3}{17.1}{20}{\mATP}
\cpd{ca288}{275.4}{1439}{301.5}{1469}{C00288}
\mol{12.2}{11.1}{20}{\Ba{0,0}{.65,.6}\Db{0,0}{-.8,0}\Ba{0,0}{.6,-.7}\A{.8,.77}{OH}\A{-.96,0}{O}\A{.7,-.86}{O\supr{-}}}
\cpd{ca24}{661}{1439}{705}{1470}{C00024}
\mol{23}{10}{20}{\Db{0,0}{0,.85}\Ba{0,0}{-1.1,-.6}\Ba{0,0}{.8,-.55}\A{0,1.03}{O}\A{-1.65,-.8}{H\sub{3}C}\A{1.85,-.8}{S--CoA}}
\cpd{ca42}{851.3}{1436.4}{900.6}{1472}{C00042}
\mol{15.2}{12.5}{18}{\Db{0,0}{0,1}\draw[bd] (-.95,-.4)--(0,0)--(1,-.52)--(1.88,-.09)--(2.83,-.52)--(3.75,0);\Db{2.83,-.52}{2.83,-1.55}\A{0,1.13}{O}\A{-1.25,-.52}{HO}\A{2.83,-1.7}{O}\A{4.12,0}{OH}}
\cpd{ca48}{927.8}{1439}{953.8}{1470}{C00048}
\mol{11.8}{7.1}{18}{\Db{0,0}{-.95,.3}\Ba{0,0}{.8,.3}\Ba{0,0}{0,-1.17}\Db{0,-1.17}{.75,-1.7}\A{-1.05,.35}{O}\A{1.12,.35}{OH}\A{.87,-1.78}{O}}
\cpd{ca27}{962.3}{1445.5}{988.6}{1462.8}{C00027}\mol{12.5}{4.8}{20}{\Ba{-.4,0}{.4,0}\A{-.78,0}{HO}\A{.78,0}{OH}}
\cpd{ca14}{997}{1440.4}{1023.4}{1468.5}{C00014}\mol{13}{12.5}{20}{\Ba{0,0}{0,1.1}\Ba{0,0}{-.95,-.43}\Ba{0,0}{.93,-.43}\A{0,0}{N}\A{0,1.1}{H}\A{-.95,-.43}{H}\A{.93,-.43}{H}}
\cpd{adp5}{125.2}{1527.6}{224.8}{1565.6}{C00008}\mol{15.2}{16}{19}{\mADP}
\cpd{pi4}{233.4}{1530.5}{264.3}{1562.5}{C00009}\mol{15}{12}{20}{\mPi}
\cpd{ca37}{920.8}{1528}{953.8}{1565}{C00037}
\mol{14.4}{13.6}{20}{\Db{0,0}{.17,1.05}\Ba{0,0}{-.8,-.3}\Ba{0,0}{1.07,-.52}\Ba{1.07,-.52}{1.4,-1.25}\A{.17,1.2}{O}\A{-1.12,-.35}{HO}\A{1.75,-1.5}{NH\sub{2}}}
\cpd{ca7}{962.3}{1538}{988.6}{1555}{C00007}\mol{11.2}{5.1}{20}{\Db{-.4,0}{.4,0}\A{-.47,0}{O}\A{.47,0}{O}}
\cpd{h2oi}{997}{1535}{1023.4}{1558}{C00001}\mol{12.6}{10.5}{20}{\mWater}
% ---- connectors
\draw[arr] (ca718.south -| 990.5,0) -- (r5196.north -| 990.5,0);
\draw[arr] (ca31.west |- 0,41) -- (r5196.east |- 0,75.5);
\draw[arr] (ca31.south -| 1101.6,0) -- (r0010.north -| 1101.6,0);
\draw[arr] (ca31.east |- 0,45) -- (r0837.north -| 1173.5,0);
\draw[arr] (ca92.south -| 1186.8,0) -- (r0837.north -| 1186.8,0);
\draw[arr] (r5196.south -| 986.8,0) -- (ca208.north -| 980,0);
\draw[arr] (r0010.south -| 1093.6,0) -- (ca1083.north -| 1079.7,0);
\draw[arr] (r0010.south -| 1115,0) .. controls (1127,103) and (1138,110) .. (h2oa.north -| 1145.5,0);
\draw[arr] (r0837.south -| 1186.8,0) -- (h2ob.north -| 1186.8,0);
\draw[arr] (r0837.south -| 1194,0) .. controls (1205,110) and (1216,150) .. (ca689.north -| 1215.3,0);
\draw[arr] (ca208.south -| 947,0) -- (r0028.north -| 928,0);
\draw[arr] (h2oc.south -| 914.5,0) -- (r0028.north -| 917.5,0);
\draw[arr] (r0028.south -| 919.4,0) -- (ca267.north -| 919.4,0);
\draw[arr] (ca267.south -| 919.4,0) -- (r1602.north -| 919.4,0);
\draw[arr] (r1602.south -| 919.4,0) -- (ca221.north -| 919.4,0);
\draw[arr] (ca221.south -| 937,0) -- (r1600.north -| 966,0);
\draw[arr] (atp1.south -| 998.8,0) -- (r1600.north -| 982,0);
\draw[arr] (r1600.south -| 974,0) .. controls (971,425) and (968,435) .. (ca1172.north -| 965.7,0);
\draw[arr] (r1600.south -| 986.6,0) -- (adp1.north -| 1026.7,0);
\draw[arr] (nadp1.south -| 919,0) -- (r2736.north -| 942.5,0);
\draw[arr] (ca1172.south -| 958.4,0) -- (r2736.north -| 956,0);
\draw[arr] (r2736.south -| 941.4,0) -- (nadph1.north -| 914.5,0);
\draw[arr] (r2736.south -| 955.3,0) -- (ca1236.north -| 955.3,0);
\draw[arr] (r2736.east |- 0,534.7) .. controls (1005,541) and (1038,558) .. (hp1.north -| 1043,0);
\draw[arr] (ca1236.south -| 963.3,0) -- (r2035.north -| 977,0);
\draw[arr] (h2od.south -| 1004,0) -- (r2035.north -| 988,0);
\draw[arr] (r2035.south -| 981.6,0) -- (ca345.north -| 981.6,0);
\draw[arr] (ca345.south -| 981.6,0) -- (r2036.north -| 981.6,0);
\draw[arr] (r2036.south -| 978.6,0) -- (ca4442.north -| 973,0);
\draw[arr] (r2036.south -| 984.8,0) -- (h2oe.north -| 1003.8,0);
\draw[arr] (ca4442.south -| 955.6,0) -- (r5605.north -| 955.6,0);
\draw[arr] (r5605.west |- 0,929.4) .. controls (870,936) and (808,945) .. (ca22.east |- 0,970);
\draw[arr] (r5605.east |- 0,929.4) .. controls (1010,933) and (1050,940) .. (ca118.west |- 0,957.6);
\draw[arr] (ca22.south -| 739.5,0) -- (r0353.north -| 716,0);
\draw[arr] (ca22.east |- 0,988.5) -- (r0930.north -| 831,0);
\draw[arr] (ca683.south -| 838.3,0) -- (r0930.north -| 842,0);
\draw[arr] (co2b.south -| 890.4,0) .. controls (895,1002) and (908,1010) .. (r0341.north -| 918,0);
\draw[arr] (ca74.south -| 929,0) -- (r0341.north -| 929,0);
\draw[arr] (adp2.south -| 979,0) -- (r0341.north -| 943,0);
\draw[arr] (ca22.west |- 0,981) .. controls (450,1005) and (230,1020) .. (150,1055) .. controls (136,1070) and (134.7,1075) .. (134.7,1100) -- (134.7,1350) .. controls (134,1400) and (131,1430) .. (133,1450) .. controls (136,1475) and (160,1492) .. (r0344.west |- 0,1498.6);
\draw[arr] (r0353.east |- 0,1030) .. controls (790,1036) and (860,1043) .. (ca36.north -| 897.5,0);
\draw[arr] (r0930.east |- 0,1037) -- (ca36.north -| 897,0);
\draw[arr] (r0930.south -| 848,0) -- (ca100.north -| 857,0);
\draw[arr] (r0341.south -| 926.8,0) -- (ca36.north -| 923.5,0);
\draw[arr] (r0341.south -| 943.5,0) -- (atp2.north -| 973.5,0);
\draw[arr] (r0353.south -| 697,0) .. controls (686,1050) and (684,1060) .. (684.5,1070) -- (692,1230) -- (692,1340) .. controls (691,1400) and (689,1420) .. (ca24.north -| 688,0);
\draw[arr] (adp3.south -| 758.7,0) -- (r0352.north -| 774,0);
\draw[arr] (pi2.south -| 803,0) -- (r0352.north -| 790,0);
\draw[arr] (ca36.south -| 897,0) .. controls (880,1108) and (835,1116) .. (r0352.east |- 0,1120);
\draw[arr] (r0352.west |- 0,1124) .. controls (730,1125) and (680,1133) .. (coa.north -| 643.4,0);
\draw[arr] (r0352.south -| 783,0) -- (atp3.north -| 783,0);
\draw[arr] (r0352.east |- 0,1127) .. controls (830,1138) and (853,1150) .. (ca158.north -| 864,0);
\draw[arr] (ca158.south -| 876,0) -- (r1324.north -| 876,0);
\draw[arr] (r1324.south -| 876,0) -- (ca311.north -| 876,0);
\draw[arr] (ca311.south -| 876,0) -- (r0479.north -| 876,0);
\draw[arr] (r0479.south -| 876,0) -- (ca42.north -| 876,0);
\draw[arr] (r0479.south -| 888.3,0) -- (ca48.west |- 0,1444);
\draw[arr] (ca48.south -| 952,0) -- (r0366.north -| 968.4,0);
\draw[arr] (ca27.south -| 975.6,0) -- (r0366.north -| 975.6,0);
\draw[arr] (ca14.south -| 1000,0) -- (r0366.north -| 983,0);
\draw[arr] (r0366.south -| 968,0) -- (ca37.north -| 952.6,0);
\draw[arr] (r0366.south -| 975.6,0) -- (ca7.north -| 975.6,0);
\draw[arr] (r0366.south -| 982.6,0) -- (h2oi.north -| 1001.4,0);
\draw[arr] (r0344.east |- 0,1500.4) -- (351,1500) .. controls (500,1498) and (760,1490) .. (882.6,1480.5) .. controls (892,1479) and (898,1478) .. (904.4,1474.4) .. controls (917,1465) and (919,1458) .. (917.8,1449.5) .. controls (917,1438) and (914,1425) .. (914,1412.8) -- (914,1165.7) .. controls (914,1150) and (916,1130) .. (ca36.south -| 917.6,0);
\draw[arr] (nadp2.south -| 317.6,0) .. controls (355,1244) and (395,1250) .. (r5190.west |- 0,1256.6);
\draw[arr] (nad3.south -| 420.7,0) -- (r5190.north -| 451.5,0);
\draw[arr] (h2oh.south -| 462,0) -- (r5190.north -| 462,0);
\draw[arr] (ca2843.south -| 499.7,0) -- (r5190.north -| 469,0);
\draw[arr] (coa.west |- 0,1230) .. controls (530,1240) and (510,1248) .. (r5190.east |- 0,1255);
\draw[arr] (co2c.south -| 663.6,0) .. controls (660,1225) and (650,1235) .. (577.6,1250.8) .. controls (540,1254) and (510,1256) .. (r5190.east |- 0,1258);
\draw[arr] (r5190.west |- 0,1259.5) .. controls (350,1270) and (240,1276) .. (216,1279.6) .. controls (198,1284) and (185,1298) .. (ca83.north -| 180.5,0);
\draw[arr] (ca83.north -| 177,0) -- (178,1304) .. controls (176,1230) and (170,1112) .. (205,1102) .. controls (300,1080) and (560,1040) .. (r0353.west |- 0,1030.5);
\draw[arr] (r5190.west |- 0,1264) -- (nadph2.north -| 398.4,0);
\draw[arr] (r5190.south -| 462,0) -- (nadh3.north -| 462,0);
\draw[arr] (r5190.east |- 0,1261) .. controls (515,1275) and (532,1300) .. (hp4.north -| 537,0);
\draw[arr] (r5190.east |- 0,1260) .. controls (560,1268) and (620,1275) .. (661,1282.7) .. controls (675,1295) and (683,1380) .. (ca24.north -| 684,0);
\draw[arr] (adp4.south -| 585,0) .. controls (575,1380) and (540,1388) .. (470,1394) .. controls (400,1399) and (320,1404) .. (r0742.east |- 0,1407);
\draw[arr] (ca83.south -| 181.9,0) .. controls (188,1368) and (205,1388) .. (r0742.west |- 0,1402.7);
\draw[arr] (pi3.south -| 232,0) -- (r0742.north -| 251.9,0);
\draw[arr] (r0742.south -| 247,0) -- (atp5.north -| 230,0);
\draw[arr] (r0742.south -| 263,0) -- (ca288.north -| 278,0);
\draw[arr] (r0742.east |- 0,1409) .. controls (400,1425) and (560,1440) .. (ca24.west |- 0,1450);
\draw[arr] (atp4.south -| 120.8,0) -- (r0344.west |- 0,1495.8);
\draw[arr] (ca288.south -| 276.6,0) .. controls (265,1482) and (245,1491) .. (r0344.east |- 0,1496);
\draw[arr] (r0344.south -| 204,0) -- (adp5.north -| 190.7,0);
\draw[arr] (r0344.south -| 219.5,0) -- (pi4.north -| 235.7,0);
\draw[arr] (ca24.north -| 694,0) .. controls (708,1415) and (711,1390) .. (710,1340) -- (710,1248) .. controls (709,1220) and (704,1205) .. (704,1190) .. controls (703,1165) and (715,1148) .. (721,1144) .. controls (735,1132) and (750,1127) .. (r0352.west |- 0,1123.6);
% upper right
\draw[arr] (ca1083.south -| 1069.6,0) .. controls (1072,175) and (1075,180) .. (r2778.north -| 1078.7,0);
\draw[arr] (pi1.south -| 1105.6,0) .. controls (1100,165) and (1095,175) .. (r2778.north -| 1088.8,0);
\draw[arr] (r2778.south -| 1074,0) -- (h2of.north -| 1050,0);
\draw[arr] (r2778.east |- 0,199.3) -- (ca689.west |- 0,222);
\draw[arr] (ca15.south -| 1148,0) -- (r2737.north -| 1188.8,0);
\draw[arr] (ca689.south -| 1209,0) -- (r2737.north -| 1205,0);
\draw[arr] (r2737.south -| 1196.3,0) -- (ca29.north -| 1181.7,0);
\draw[arr] (r2737.east |- 0,290) .. controls (1300,298) and (1375,305) .. (ca668.north -| 1398.5,0);
\draw[arr] (ca29.south -| 1218.9,0) -- (r0286.west |- 0,397.5);
\draw[arr] (nad1.south -| 1289.5,0) -- (r0286.north -| 1289.5,0);
\draw[arr] (h2og.south -| 1361.3,0) .. controls (1355,380) and (1330,390) .. (r0286.east |- 0,400);
\draw[arr] (r0286.west |- 0,409.4) .. controls (1260,418) and (1235,425) .. (ca167.north -| 1218.6,0);
\draw[arr] (r0286.south -| 1289.6,0) -- (nadh1.north -| 1289.6,0);
\draw[arr] (r0286.east |- 0,404.5) .. controls (1400,410) and (1470,420) .. (hp2.north -| 1483,0);
\draw[arr] (ca167.south -| 1180,0) -- (r7658.north -| 1183.6,0);
\draw[arr] (nad2.south -| 1363,0) .. controls (1345,512) and (1280,518) .. (r7658.east |- 0,530.8);
\draw[arr] (r7658.west |- 0,536.8) .. controls (1125,550) and (1120,570) .. (co2a.north -| 1116,0);
\draw[arr] (r7658.south -| 1177.4,0) .. controls (1165,560) and (1157,580) .. (hp3.north -| 1151.8,0);
\draw[arr] (r7658.south -| 1190.4,0) -- (nadh2.north -| 1207.6,0);
\draw[arr] (r7658.east |- 0,534.8) .. controls (1250,545) and (1290,558) .. (ca16155.north -| 1317.6,0);
\end{tikzpicture}
\end{document}
